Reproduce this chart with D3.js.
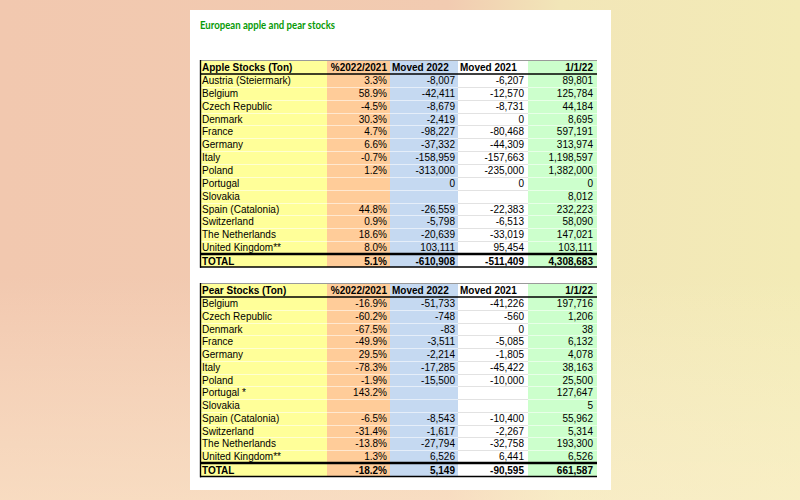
<!DOCTYPE html>
<html>
<head>
<meta charset="utf-8">
<script src="https://cdn.jsdelivr.net/npm/d3@7"></script>
<style>
  body { margin: 0; padding: 0; }
  svg { display: block; }
</style>
</head>
<body>
<div id="viz"></div>
<script>
// table data (null = empty cell)
var headers = ['%2022/2021', 'Moved 2022', 'Moved 2021', '1/1/22'];

var appleCountries = ['Austria (Steiermark)', 'Belgium', 'Czech Republic', 'Denmark', 'France', 'Germany', 'Italy',
    'Poland', 'Portugal', 'Slovakia', 'Spain (Catalonia)', 'Switzerland', 'The Netherlands', 'United Kingdom**'];
var applePct     = [3.3, 58.9, -4.5, 30.3, 4.7, 6.6, -0.7, 1.2, null, null, 44.8, 0.9, 18.6, 8.0];
var appleMoved22 = [-8007, -42411, -8679, -2419, -98227, -37332, -158959, -313000, 0, null, -26559, -5798, -20639, 103111];
var appleMoved21 = [-6207, -12570, -8731, 0, -80468, -44309, -157663, -235000, 0, null, -22383, -6513, -33019, 95454];
var appleStock   = [89801, 125784, 44184, 8695, 597191, 313974, 1198597, 1382000, 0, 8012, 232223, 58090, 147021, 103111];
var appleTotal   = [5.1, -610908, -511409, 4308683];

var pearCountries = ['Belgium', 'Czech Republic', 'Denmark', 'France', 'Germany', 'Italy', 'Poland',
    'Portugal *', 'Slovakia', 'Spain (Catalonia)', 'Switzerland', 'The Netherlands', 'United Kingdom**'];
var pearPct     = [-16.9, -60.2, -67.5, -49.9, 29.5, -78.3, -1.9, 143.2, null, -6.5, -31.4, -13.8, 1.3];
var pearMoved22 = [-51733, -748, -83, -3511, -2214, -17285, -15500, null, null, -8543, -1617, -27794, 6526];
var pearMoved21 = [-41226, -560, 0, -5085, -1805, -45422, -10000, null, null, -10400, -2267, -32758, 6441];
var pearStock   = [197716, 1206, 38, 6132, 4078, 38163, 25500, 127647, 5, 55962, 5314, 193300, 6526];
var pearTotal   = [-18.2, 5149, -90595, 661587];

// column layout
var colEdges = [200, 327, 390, 458, 528, 597];
var colFills = ['#ffff99', '#ffcc99', '#c5d9f1', '#ffffff', '#ccffcc'];
var font = '"Liberation Sans", Arial, sans-serif';

// plain hyphen for negatives, like the spreadsheet
var locale = d3.formatLocale({decimal: '.', thousands: ',', grouping: [3], currency: ['', ''], minus: '-'});
var fmtNum = locale.format(',');
var fmtOne = locale.format('.1f');
function fmtPct(v) { return fmtOne(v) + '%'; }

var svg = d3.select('#viz').append('svg')
    .attr('width', 800)
    .attr('height', 500);

// background
var defs = svg.append('defs');
var bg = defs.append('linearGradient').attr('id', 'bg').attr('x1', 0).attr('x2', 1).attr('y1', 0).attr('y2', 0);
bg.append('stop').attr('offset', '0%').attr('stop-color', '#f2c8af');
bg.append('stop').attr('offset', '56%').attr('stop-color', '#f2cbb1');
bg.append('stop').attr('offset', '70%').attr('stop-color', '#f2e6b8');
bg.append('stop').attr('offset', '100%').attr('stop-color', '#f3ebb6');
var haze = defs.append('linearGradient').attr('id', 'haze').attr('x1', 0).attr('x2', 0).attr('y1', 0).attr('y2', 1);
haze.append('stop').attr('offset', '55%').attr('stop-color', '#fff8e0').attr('stop-opacity', 0);
haze.append('stop').attr('offset', '100%').attr('stop-color', '#fff3d6').attr('stop-opacity', 0.45);

svg.append('rect').attr('width', 800).attr('height', 500).attr('fill', 'url(#bg)');
svg.append('rect').attr('width', 800).attr('height', 500).attr('fill', 'url(#haze)');

// white page
svg.append('rect')
    .attr('x', 190).attr('y', 10)
    .attr('width', 421).attr('height', 480)
    .attr('fill', '#ffffff');

// title
svg.append('text')
    .attr('x', 200).attr('y', 28.5)
    .attr('textLength', 135)
    .attr('lengthAdjust', 'spacingAndGlyphs')
    .attr('style', 'font-family: Lato, "Open Sans", sans-serif; font-size: 10.5px; font-weight: bold; fill: #089a08;')
    .text('European apple and pear stocks');

// draws one table block
function makeTable(title, countries, pct, moved22, moved21, stock, total, top, headBottom, dataBottom, bottom) {
    var g = svg.append('g').attr('class', 'stockTable');

    var y = d3.scaleBand()
        .domain(d3.range(countries.length))
        .range([headBottom, dataBottom]);

    var x = d3.scaleOrdinal().domain(d3.range(5)).range(colEdges.slice(0, 5));
    function colW(j) { return colEdges[j + 1] - colEdges[j]; }

    // column fills
    g.selectAll('rect.col')
        .data(colFills).enter()
        .append('rect')
        .attr('class', 'col')
        .attr('x', function(d, j) { return x(j); })
        .attr('y', top)
        .attr('width', function(d, j) { return colW(j); })
        .attr('height', bottom - top)
        .attr('fill', function(d) { return d; });

    // faint row separators
    var seps = d3.range(1, countries.length);
    for (var j = 0; j < 5; j++) {
        g.selectAll('line.sep' + j)
            .data(seps).enter()
            .append('line')
            .attr('x1', x(j)).attr('x2', x(j) + colW(j))
            .attr('y1', function(d) { return Math.round(y(d)) + 0.5; })
            .attr('y2', function(d) { return Math.round(y(d)) + 0.5; })
            .attr('stroke', colFills[j] == '#ffffff' ? '#e2e2e2' : '#ffffff')
            .attr('stroke-opacity', colFills[j] == '#ffffff' ? 1 : 0.55);
    }

    // header
    var hy = (top + headBottom) / 2 + 3.6;
    var head = g.append('g').attr('style', 'font-family:' + font + '; font-size: 10px; font-weight: bold; fill: #000;');
    head.append('text').attr('x', colEdges[0] + 2).attr('y', hy).text(title);
    head.append('text').attr('x', colEdges[2] - 3).attr('y', hy).attr('text-anchor', 'end').text(headers[0]);
    head.append('text').attr('x', colEdges[2] + 2).attr('y', hy).text(headers[1]);
    head.append('text').attr('x', colEdges[3] + 2).attr('y', hy).text(headers[2]);
    head.append('text').attr('x', colEdges[5] - 4).attr('y', hy).attr('text-anchor', 'end').text(headers[3]);

    // body rows
    var rows = countries.map(function(c, i) {
        return [c, pct[i] == null ? '' : fmtPct(pct[i]),
            moved22[i] == null ? '' : fmtNum(moved22[i]),
            moved21[i] == null ? '' : fmtNum(moved21[i]),
            stock[i] == null ? '' : fmtNum(stock[i])];
    });
    var rightPad = [0, 3, 3, 4, 4];
    var body = g.append('g').attr('style', 'font-family:' + font + '; font-size: 10px; fill: #000;');
    var rowG = body.selectAll('g.tableRow')
        .data(rows).enter()
        .append('g')
        .attr('class', 'tableRow')
        .attr('transform', function(d, i) { return 'translate(0,' + (y(i) + y.bandwidth() / 2 + 3.6) + ')'; });
    rowG.selectAll('text')
        .data(function(d) { return d; }).enter()
        .append('text')
        .attr('x', function(d, j) { return j == 0 ? colEdges[0] + 2 : colEdges[j + 1] - rightPad[j]; })
        .attr('text-anchor', function(d, j) { return j == 0 ? 'start' : 'end'; })
        .text(function(d) { return d; });

    // total row
    var ty = (dataBottom + bottom) / 2 + 4.2;
    var totals = ['TOTAL', fmtPct(total[0]), fmtNum(total[1]), fmtNum(total[2]), fmtNum(total[3])];
    g.append('g').attr('style', 'font-family:' + font + '; font-size: 10px; font-weight: bold; fill: #000;')
        .selectAll('text')
        .data(totals).enter()
        .append('text')
        .attr('x', function(d, j) { return j == 0 ? colEdges[0] + 2 : colEdges[j + 1] - rightPad[j]; })
        .attr('y', ty)
        .attr('text-anchor', function(d, j) { return j == 0 ? 'start' : 'end'; })
        .text(function(d) { return d; });

    // rules
    var x0 = colEdges[0], x1 = colEdges[5];
    g.append('line').attr('x1', x0).attr('x2', x1).attr('y1', top + 0.5).attr('y2', top + 0.5)
        .attr('stroke', '#9a9a9a').attr('stroke-width', 1);
    g.append('line').attr('x1', x0).attr('x2', x1).attr('y1', headBottom).attr('y2', headBottom)
        .attr('stroke', '#000').attr('stroke-width', 1.6);
    g.append('line').attr('x1', x0).attr('x2', x1).attr('y1', dataBottom).attr('y2', dataBottom)
        .attr('stroke', '#000').attr('stroke-width', 2.6);
    g.append('line').attr('x1', x0).attr('x2', x1).attr('y1', bottom).attr('y2', bottom)
        .attr('stroke', '#000').attr('stroke-width', 1.6);
    g.append('line').attr('x1', x0 + 0.5).attr('x2', x0 + 0.5).attr('y1', top).attr('y2', bottom + 0.8)
        .attr('stroke', '#000').attr('stroke-width', 1.4);
}

makeTable('Apple Stocks (Ton)', appleCountries, applePct, appleMoved22, appleMoved21, appleStock, appleTotal,
    60, 74, 254, 267);
makeTable('Pear Stocks (Ton)', pearCountries, pearPct, pearMoved22, pearMoved21, pearStock, pearTotal,
    283, 297, 463, 476.5);
</script>
</body>
</html>
